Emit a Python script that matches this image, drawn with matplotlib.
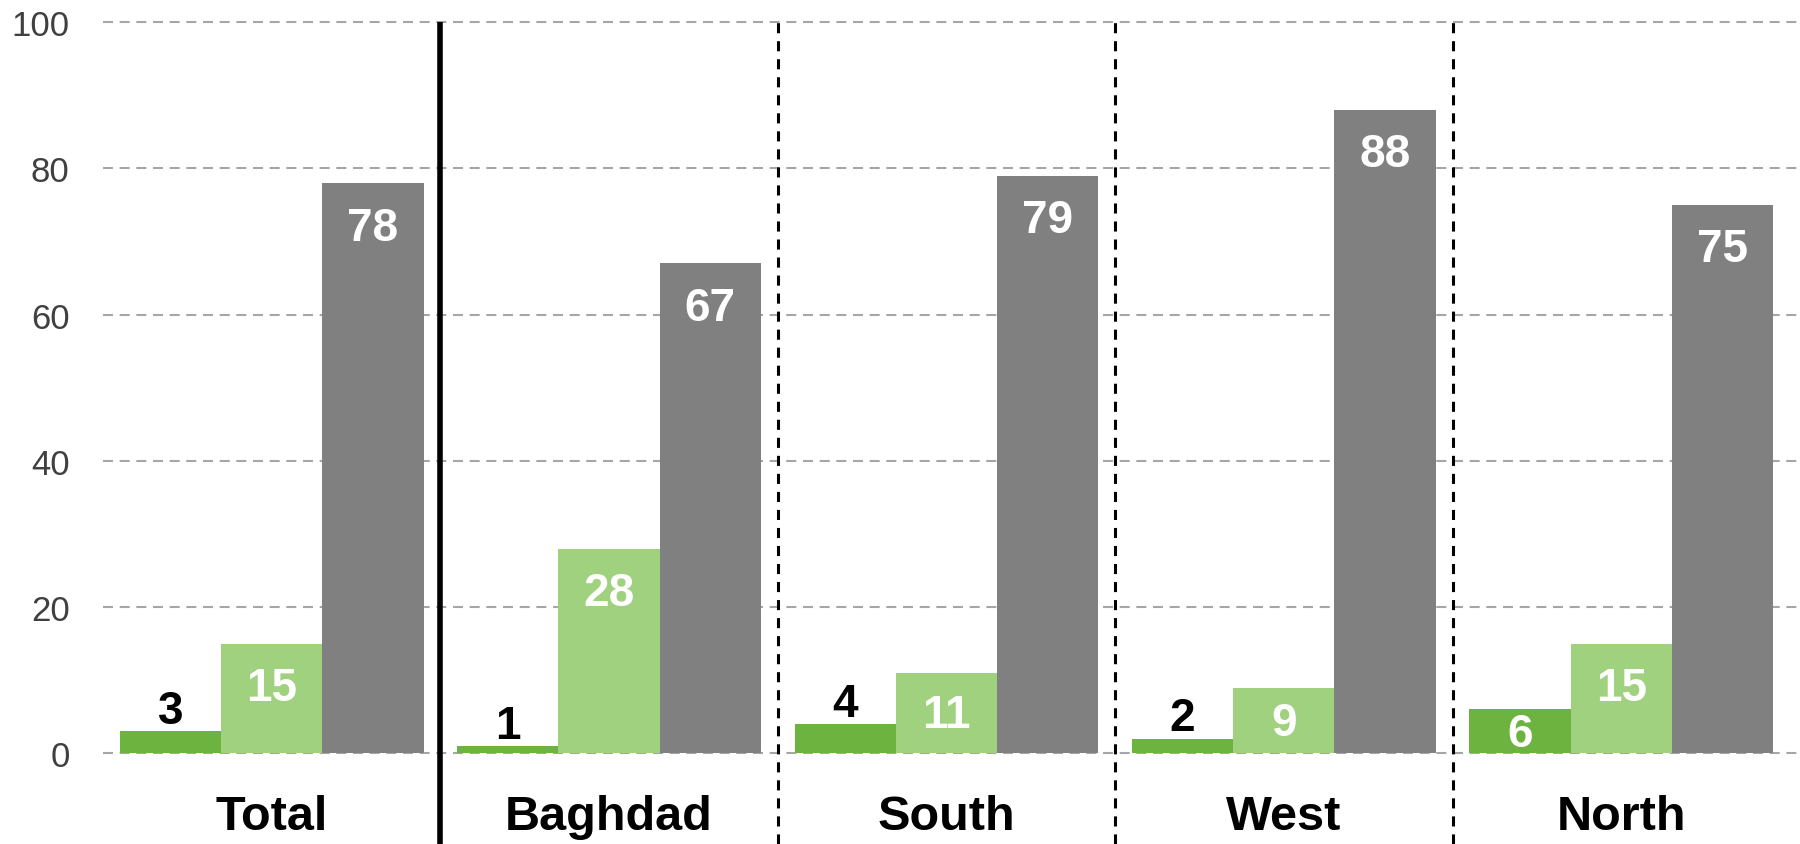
import matplotlib.pyplot as plt
import numpy as np

plt.rcParams['font.family'] = ['Liberation Sans', 'DejaVu Sans']

regions = ['Total', 'Baghdad', 'South', 'West', 'North']
dark_green = [3, 1, 4, 2, 6]
light_green = [15, 28, 11, 9, 15]
grey = [78, 67, 79, 88, 75]

series = [dark_green, light_green, grey]
colors = ['#6DB33F', '#A0D17E', '#808080']
offsets = [-0.3, 0.0, 0.3]

fig = plt.figure(figsize=(18, 8.45), dpi=100)
ax = fig.add_axes([103 / 1800, 0, 1 - 103 / 1800, 1 - 19 / 845])

x = np.arange(len(regions))
for vals, col, off in zip(series, colors, offsets):
    bars = ax.bar(x + off, vals, width=0.3, color=col, zorder=2)
    for b, v in zip(bars, vals):
        cx = b.get_x() + b.get_width() / 2
        if v < 5:
            ax.text(cx, v + 2.8, str(v), ha='center', va='center',
                    fontsize=33, fontweight='bold', color='black', zorder=3)
        else:
            ax.text(cx, max(v - 6.1, v / 2 - 0.3), str(v), ha='center', va='center',
                    fontsize=33, fontweight='bold', color='white', zorder=3)

# group separators
ax.vlines(0.5, -12.4, 100, color='black', lw=4, zorder=4, clip_on=False)
for i in range(1, len(regions) - 1):
    ax.vlines(i + 0.5, -12.4, 100, color='black', lw=2.2,
              linestyles=(0, (3.3, 2.6)), zorder=4, clip_on=False)

for i, name in enumerate(regions):
    ax.text(i, -10.3, name, ha='center', va='baseline', fontsize=35,
            fontweight='bold', color='black')

ax.set_xlim(-0.5, 4.53)
ax.set_ylim(-12.4, 100.55)
ax.set_yticks([0, 20, 40, 60, 80, 100])
ax.set_xticks([])
ax.tick_params(axis='y', length=0, pad=24, labelsize=25, labelcolor='#404040')
ax.yaxis.grid(True, color='#A6A6A6', lw=1.5, linestyle=(0, (4.8, 3.2)), zorder=0)
ax.set_axisbelow(True)
for s in ax.spines.values():
    s.set_visible(False)

fig.savefig('out.png', dpi=100)
